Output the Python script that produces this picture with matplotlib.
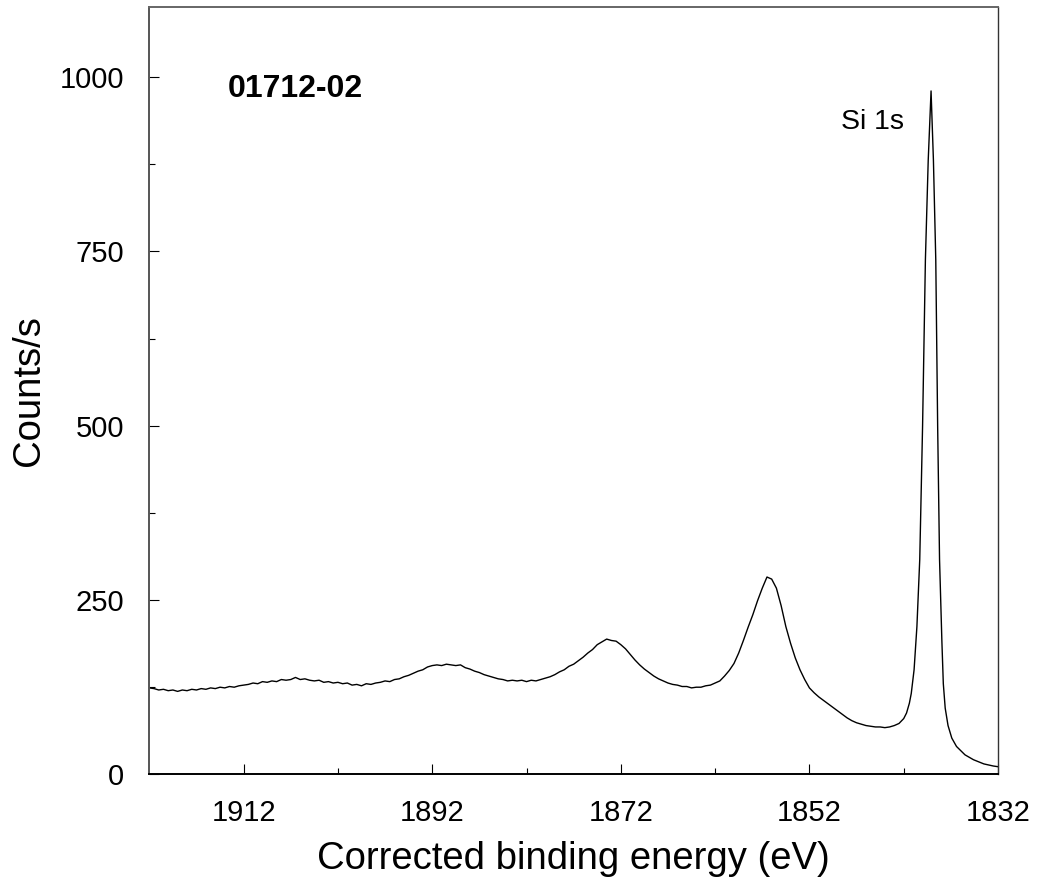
import matplotlib
matplotlib.use("Agg")
import matplotlib.pyplot as plt
from matplotlib.ticker import FixedLocator

plt.rcParams['font.family'] = ['Liberation Sans', 'DejaVu Sans']

# Background / satellite region, 0.5 eV steps
energy_bg = [1922.0 - 0.5 * i for i in range(159)]
counts_bg = [
    124, 123, 121, 122, 120, 121, 119, 121, 120, 122,
    121, 123, 122, 124, 123, 125, 124, 126, 125, 127,
    128, 129, 131, 130, 133, 132, 134, 133, 136, 135,
    136, 139, 136, 137, 135, 134, 135, 132, 133, 131,
    132, 130, 131, 128, 129, 127, 130, 129, 131, 132,
    134, 133, 136, 137, 140, 142, 145, 148, 150, 154,
    156, 157, 156, 158, 157, 156, 157, 153, 151, 148,
    146, 143, 141, 139, 137, 136, 134, 135, 134, 135,
    133, 135, 134, 136, 138, 140, 143, 147, 150, 155,
    158, 163, 168, 174, 179, 186, 190, 194, 192, 191,
    186, 180, 172, 164, 157, 151, 146, 141, 137, 134,
    131, 129, 128, 126, 126, 124, 125, 125, 127, 128,
    131, 134, 141, 149, 159, 174, 192, 211, 229, 249,
    267, 283, 280, 267, 242, 212, 188, 167, 150, 136,
    124, 117, 111, 106, 101, 96, 91, 86, 81, 77,
    74, 72, 70, 69, 68, 68, 67, 68, 70,
]

# Si 1s main peak region (finer sampling)
energy_peak = [1842.5, 1842.0, 1841.7, 1841.4, 1841.2, 1840.9, 1840.6, 1840.3,
               1840.0, 1839.7, 1839.4, 1839.1, 1838.85, 1838.6, 1838.4, 1838.2,
               1837.95, 1837.8, 1837.6, 1837.3, 1836.9, 1836.4, 1835.5, 1834.6,
               1833.5, 1832.5, 1832.0]
counts_peak = [73, 80, 88, 102, 116, 150, 212, 308,
               499, 738, 881, 980, 881, 738, 499, 308,
               190, 130, 95, 70, 52, 40, 28, 21,
               15, 12, 11]

energy = energy_bg + energy_peak
counts = counts_bg + counts_peak

x_ticks = [1912, 1892, 1872, 1852, 1832]
x_minor = [1902, 1882, 1862, 1842]
y_ticks = [0, 250, 500, 750, 1000]
y_minor = [125, 375, 625, 875]

fig = plt.figure(figsize=(10.37, 8.85), dpi=100)
ax = fig.add_axes([0.144, 0.125, 0.9624 - 0.144, 0.9918 - 0.125])

ax.plot(energy, counts, color='black', lw=1.0)

ax.set_xlim(1922, 1832)
ax.set_ylim(0, 1100)
ax.set_xticks(x_ticks)
ax.set_yticks(y_ticks)
ax.xaxis.set_minor_locator(FixedLocator(x_minor))
ax.yaxis.set_minor_locator(FixedLocator(y_minor))

ax.tick_params(which='both', direction='in', top=False, right=False, labelsize=21, width=0.8)
ax.tick_params(which='major', length=7, pad=18)
ax.tick_params(which='minor', length=4.5)

ax.spines['left'].set_color('#555555')
ax.spines['top'].set_color('#666666')
ax.spines['bottom'].set_color('black')
ax.spines['right'].set_color('#333333')
for s in ['left', 'top', 'bottom']:
    ax.spines[s].set_linewidth(1.4)
ax.spines['right'].set_linewidth(1.0)

ax.set_xlabel('Corrected binding energy (eV)', fontsize=27.5, labelpad=10)
ax.set_ylabel('Counts/s', fontsize=27.5, labelpad=9)

ax.text(1913.65, 971, '01712-02', fontsize=23, fontweight='bold', ha='left', va='baseline')
ax.text(1848.6, 926, 'Si 1s', fontsize=20.5, ha='left', va='baseline')

fig.savefig('out.png', dpi=100)
